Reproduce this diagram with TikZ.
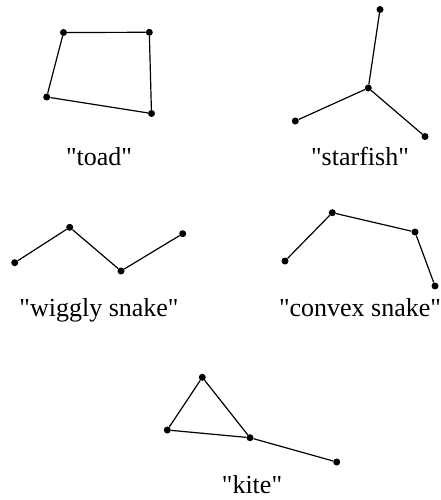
\documentclass[tikz,border=0pt]{standalone}
\usepackage{fontspec}
\setmainfont{Liberation Serif}

\begin{document}
\begin{tikzpicture}[
        x=1pt,
        y=-1pt,
        font=\fontsize{26}{30}\selectfont,
        vertex/.style={
            circle,
            fill=black,
            inner sep=0pt,
            minimum size=7pt
        },
        graphedge/.style={
            draw=black,
            line width=1.2pt
        },
        graphname/.style={
            anchor=base,
            inner sep=0pt
        }
    ]

        \useasboundingbox (0,0) rectangle (440,500);

        % Toad: four vertices in a cycle
        \node[vertex] (toadA) at (63.5,32.5) {};
        \node[vertex] (toadB) at (149.3,32.3) {};
        \node[vertex] (toadC) at (46.7,97) {};
        \node[vertex] (toadD) at (151.5,113.5) {};
        \draw[graphedge]
            (toadA) -- (toadB) -- (toadD) -- (toadC) -- (toadA);

        \node[graphname] (toadname) at (99,165)
            {\textquotedbl toad\textquotedbl};

        % Starfish: one centre with three arms
        \node[vertex] (starC) at (368.3,88) {};
        \node[vertex] (starA) at (380,9.5) {};
        \node[vertex] (starB) at (295.3,121) {};
        \node[vertex] (starD) at (425,136.5) {};
        \draw[graphedge] (starC) -- (starA);
        \draw[graphedge] (starC) -- (starB);
        \draw[graphedge] (starC) -- (starD);

        \node[graphname] (starname) at (360,165)
            {\textquotedbl starfish\textquotedbl};

        % Wiggly snake
        \node[vertex] (wigA) at (14.7,262.7) {};
        \node[vertex] (wigB) at (69.7,227.3) {};
        \node[vertex] (wigC) at (121,271) {};
        \node[vertex] (wigD) at (182.7,233.7) {};
        \draw[graphedge]
            (wigA) -- (wigB) -- (wigC) -- (wigD);

        \node[graphname] (wigname) at (99,316)
            {\textquotedbl wiggly snake\textquotedbl};

        % Convex snake
        \node[vertex] (cvxA) at (285,261) {};
        \node[vertex] (cvxB) at (332.3,212.7) {};
        \node[vertex] (cvxC) at (415,232) {};
        \node[vertex] (cvxD) at (435,286) {};
        \draw[graphedge]
            (cvxA) -- (cvxB) -- (cvxC) -- (cvxD);

        \node[graphname] (cvxname) at (360,316)
            {\textquotedbl convex snake\textquotedbl};

        % Kite: triangle with a tail
        \node[vertex] (kiteA) at (202.3,377.3) {};
        \node[vertex] (kiteB) at (167.3,430) {};
        \node[vertex] (kiteC) at (250,437.7) {};
        \node[vertex] (kiteD) at (336.7,462) {};
        \draw[graphedge]
            (kiteA) -- (kiteB) -- (kiteC) -- (kiteA);
        \draw[graphedge] (kiteC) -- (kiteD);

        \node[graphname] (kitename) at (252,493)
            {\textquotedbl kite\textquotedbl};

    \end{tikzpicture}
\end{document}
